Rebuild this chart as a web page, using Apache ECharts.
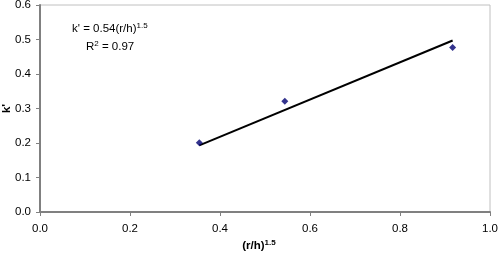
<!DOCTYPE html>
<html>
<head>
<meta charset="utf-8">
<script src="https://cdn.jsdelivr.net/npm/echarts@6/dist/echarts.min.js"></script>
<style>
  html, body { margin: 0; padding: 0; background: #fff; }
  #chart { width: 498px; height: 257px; }
</style>
</head>
<body>
<div id="chart"></div>
<script>
// measured points
var ratioX = [0.354, 0.544, 0.917]
var kValues = [0.201, 0.321, 0.477]
// power trendline
var trendX = [0.354, 0.917]
var trendY = [0.193, 0.497]
var xTicks = [0, 0.2, 0.4, 0.6, 0.8, 1.0]
var yTicks = [0, 0.1, 0.2, 0.3, 0.4, 0.5, 0.6]

var pts = ratioX.map(function (x, i) { return [x, kValues[i]] })
var trend = trendX.map(function (x, i) { return [x, trendY[i]] })

var chart = echarts.init(document.getElementById("chart"))
var font = "Liberation Sans, Arial, sans-serif"
var fs = 11.5

var option = {
    animation: false,
    grid: {
        left: 40,
        right: 8,
        top: 5,
        bottom: 45,
        containLabel: false,
        outerBoundsMode: "none",
        show: true,
        borderColor: "#c0c0c0",
        borderWidth: 1
    },
    xAxis: {
        type: "value",
        min: 0,
        max: 1,
        interval: 0.2,
        name: "(r/h){s|1.5}",
        nameLocation: "middle",
        nameGap: 27,
        nameMoveOverlap: false,
        nameTextStyle: {
            fontFamily: font, fontSize: fs, fontWeight: "bold", color: "#000",
            padding: [0, 12, 0, 0],
            rich: { s: { fontFamily: font, fontSize: 8, fontWeight: "bold", verticalAlign: "top", padding: [0, 0, 6, 0] } }
        },
        axisLine: { lineStyle: { color: "#808080", width: 2 } },
        axisTick: { show: true, inside: false, length: 4, lineStyle: { color: "#808080" } },
        axisLabel: {
            margin: 11, fontFamily: font, fontSize: fs, color: "#000",
            formatter: function (v) { return v.toFixed(1) }
        },
        splitLine: { show: false }
    },
    yAxis: {
        type: "value",
        min: 0,
        max: 0.6,
        interval: 0.1,
        name: "k'",
        nameLocation: "middle",
        nameGap: 27,
        nameMoveOverlap: false,
        nameRotate: 90,
        nameTextStyle: { fontFamily: font, fontSize: fs, fontWeight: "bold", color: "#000" },
        axisLine: { show: true, lineStyle: { color: "#808080", width: 2 } },
        axisTick: { show: true, inside: false, length: 4, lineStyle: { color: "#808080" } },
        axisLabel: {
            margin: 9, fontFamily: font, fontSize: fs, color: "#000",
            formatter: function (v) { return v.toFixed(1) }
        },
        splitLine: { show: false }
    },
    series: [
        {
            type: "line",
            data: trend,
            symbol: "none",
            lineStyle: { color: "#000", width: 2 },
            z: 2
        },
        {
            type: "scatter",
            data: pts,
            symbol: "diamond",
            symbolSize: 7,
            itemStyle: { color: "#000070" },
            z: 3
        }
    ],
    graphic: [
        {
            type: "text",
            left: 72,
            top: 22,
            style: {
                text: "k' = 0.54(r/h){s|1.5}",
                font: fs + "px " + font,
                fill: "#000",
                rich: { s: { fontFamily: font, fontSize: 8, verticalAlign: "top", padding: [0, 0, 6, 0] } }
            }
        },
        {
            type: "text",
            left: 86,
            top: 40,
            style: {
                text: "R{s|2} = 0.97",
                font: fs + "px " + font,
                fill: "#000",
                rich: { s: { fontFamily: font, fontSize: 8, verticalAlign: "top", padding: [0, 0, 6, 0] } }
            }
        }
    ]
}
chart.setOption(option)
</script>
</body>
</html>
